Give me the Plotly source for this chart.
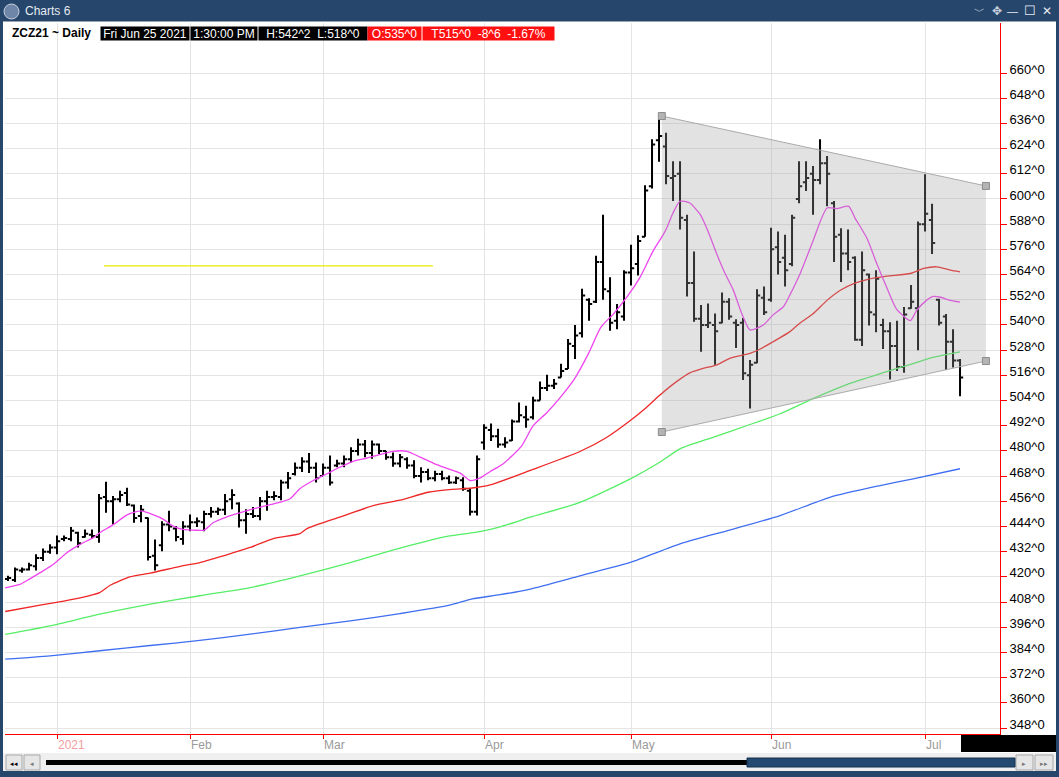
import pandas as pd
import plotly.graph_objects as go

"""
    ZCZ21 DAILY BAR CHART WITH MOVING AVERAGES AND TRIANGLE
"""

W, H = 1059, 777
ML, MR, MT, MB = 5, 59, 23, 43

# trading days shown on the chart
holidays = ["2020-12-25", "2021-01-01", "2021-01-18", "2021-02-15",
            "2021-04-02", "2021-05-31", "2021-07-05"]
days = [d for d in pd.bdate_range("2020-12-22", "2021-07-09")
        if d.strftime("%Y-%m-%d") not in holidays]
month_labels = ["<span style='color:#f2a0a0'>2021</span>", "Feb", "Mar", "Apr", "May", "Jun", "Jul"]

# daily bars
opens = [419, 418.5, 423, 423.5, 425, 429, 432, 434, 438, 438, 441, 439, 440, 439, 458, 456, 457, 460, 454, 449,
         448, 430, 435, 445, 443, 438, 444, 446, 446, 450, 451, 452, 457, 455, 447, 450, 449, 456, 458, 458,
         465, 469, 472, 475, 472, 468, 472, 473, 474, 476, 480, 483, 479, 483, 480, 477, 474, 476, 473, 468,
         470, 467, 469, 467, 465, 466, 461, 451, 484, 490, 487, 483, 485, 494, 496, 496, 504, 510, 511, 515,
         519, 530, 536, 552, 551, 570, 556, 542, 544, 565, 569, 582, 606, 628, 625, 610, 612, 590, 560, 543,
         540, 540, 541, 551, 541, 541, 516, 522, 553, 552, 577, 572, 569, 600, 608, 612, 609, 617, 598, 583,
         574, 572, 533, 564, 545, 540, 537, 530, 520, 548, 548, 588, 590, 552, 544, 532, 523]
highs = [420.5, 424.5, 424.5, 426.75, 430.75, 433.5, 435.5, 439.75, 439.75, 443.75, 441.5, 442.5, 442.5, 459.5,
         465.25, 458.5, 461, 462.5, 454.5, 454.25, 448.25, 437.75, 446.5, 451.5, 444.25, 446.5, 449.75, 448.25,
         451.5, 453.25, 453, 459.5, 461.75, 455.5, 452.25, 453.25, 458, 461, 460.75, 466.25, 470, 474.5, 477,
         479, 474.5, 474, 477.75, 475.75, 477.75, 481.75, 485.75, 485.25, 485, 483.5, 480, 479.25, 478.5, 477,
         475.5, 472.25, 471.5, 470.5, 470.5, 468.25, 467.75, 467.5, 462, 477.75, 492.75, 493, 490.5, 486.5, 495,
         503, 501.5, 505.75, 513, 516.25, 514.25, 521.5, 533.25, 540, 557.25, 552.75, 573, 592.5, 562.75, 550,
         566, 578.25, 582.75, 606.5, 628.5, 638, 631.5, 618, 618, 592.5, 575, 549.5, 550.25, 545.5, 555.5,
         552.75, 542.75, 543.25, 523.25, 557, 558.25, 586.25, 584.5, 583, 592.5, 618, 618, 615.75, 628.5, 620.5,
         599, 586, 585.5, 572.75, 575, 564.5, 566, 543, 541.25, 542, 548.5, 559, 589.25, 611.75, 597.75, 552.5,
         545.25, 538, 523.75]
lows = [418, 417.5, 422, 423, 423, 427.5, 431, 430.75, 437, 437, 434, 438.75, 438.25, 436.25, 450.5, 445, 455.5,
        453.75, 445.75, 446, 427.75, 423, 432.25, 441.75, 437, 435.25, 441.75, 443.75, 441.75, 448.25, 449.5,
        449.5, 452.25, 443.5, 440.5, 448, 447, 451.5, 456.5, 456.5, 462, 468.25, 470, 469.5, 465, 468, 463.5,
        472.25, 472.25, 474.5, 477.75, 477, 476.25, 478.5, 475.75, 472.5, 472.25, 471.5, 467, 465, 466, 465.5,
        466, 464.25, 464.25, 461, 449.25, 449.25, 480.5, 484.75, 481.5, 481.5, 484.75, 493.5, 491, 495, 504,
        508.5, 509.5, 515, 519, 523.75, 534, 542, 550.5, 552, 537.25, 538, 542, 558.75, 563.5, 582, 605, 617.75,
        607, 599, 585.5, 553.5, 541.5, 527.25, 538.5, 521, 540.75, 542.5, 529, 513.75, 500.25, 521.75, 544.75,
        551, 564, 558.25, 568, 598, 603.75, 592.5, 607, 596.5, 570, 560.5, 566, 532.5, 530, 539.75, 536.5,
        528.5, 514, 518, 517.25, 547.75, 528, 584.5, 573.75, 539.75, 518.5, 519.75, 506]
closes = [419.5, 423.5, 423.5, 425.5, 429, 432, 434, 437, 438.5, 442, 436, 440.5, 439.5, 457.5, 456, 457, 459,
          454.5, 448, 452, 429.5, 425.5, 445, 444, 439, 444, 446, 446.5, 450, 451, 452, 456, 459, 447, 450, 449,
          456, 458, 458.5, 465, 467, 472, 475, 472, 467, 472, 465, 474, 476, 480, 483, 479, 483, 480, 477, 474,
          477, 473, 468, 470, 467, 469, 467, 465, 467, 462, 451, 476, 491, 487, 483, 484, 494, 497, 495, 504,
          510, 511, 512, 518, 531, 535, 554, 550, 570, 557, 541, 546, 565, 567, 580, 604, 626, 630, 611, 611,
          591, 560, 543, 540, 541, 537, 551, 544, 540, 517, 521, 554, 546, 576, 570, 566, 591, 606, 610, 609,
          617, 612, 582, 574, 570, 533, 566, 546, 562, 537, 530, 520, 545, 551, 588, 593, 579, 541, 532, 523, 515]

# moving averages, sampled along the chart (bar index, price)
ma_fast_x = [-0.4, 1.7, 3, 4.6, 6.5, 8.4, 10.3, 12.2, 13.1, 15.1, 17, 19, 20.8, 22.2, 23.6, 25, 27, 28, 29.3,
             31.2, 33.1, 35, 37, 38.9, 40.3, 41.7, 43.6, 45.5, 47.4, 49.3, 51.2, 53.1, 55, 57, 58.9, 60.8, 62.7,
             64.6, 66, 67.4, 68.9, 70.7, 73.3, 75, 77, 78.9, 80.9, 82.9, 84.7, 86.5, 88.4, 90.3, 92.2, 93.6,
             94.1, 95, 96, 97.4, 98.9, 100, 101.2, 102.4, 103.6, 104.8, 106, 107.9, 109.3, 110.8, 111.7, 113.1,
             114.6, 115, 117, 118.4, 120.1, 121, 122.7, 124.1, 125.5, 126.9, 128.9, 129.8, 131.2, 132.2, 133.1,
             134.6, 136]
ma_fast_y = [414.8, 416.4, 418.8, 422, 426, 431.5, 435.5, 438.7, 441, 445, 449.5, 451.4, 449.5, 447.4, 444.2,
             442.6, 442.2, 442.2, 445.8, 448.5, 450.5, 452.4, 454, 455.6, 457.2, 462, 465.9, 469, 472.2, 475,
             476.5, 478.2, 479.8, 479.8, 477, 474.1, 471.7, 469.4, 465.9, 467, 470.2, 473.8, 482, 491.9, 498.3,
             505.5, 514.2, 526.2, 538.9, 545.3, 553.2, 562.8, 575.5, 583, 586.2, 593.3, 598.9, 598.1, 592.5,
             584.6, 574.2, 564.7, 556.7, 545.6, 537.6, 540, 544.8, 548.8, 554.3, 564, 576.6, 580, 595.7, 595.4,
             596.5, 590.9, 581.3, 569.3, 558.1, 547.7, 542.1, 546.9, 551.7, 553.6, 553.3, 551.7, 550.9]
ma_mid_x = [-0.4, 4.6, 6.7, 10.3, 13.1, 14.6, 17.4, 20.3, 24.6, 27.4, 32.2, 34.6, 37.9, 41.7, 42.7, 47.4, 52.3,
            56, 60, 63.4, 66, 68.9, 74.6, 81.7, 85.5, 88.9, 91.2, 93.1, 95.5, 97.4, 99.3, 101.2, 103.1, 106,
            107.4, 109.3, 111.7, 113.1, 115, 117, 118.9, 120.8, 122.7, 125.5, 128.9, 130.8, 132.7, 134.6, 136]
ma_mid_y = [403.5, 406.5, 407.7, 410, 412.5, 416, 420, 421.8, 425, 426.8, 431.5, 434, 438.2, 440.6, 443, 448.5,
            454, 456.5, 460.3, 461.7, 462.2, 463.8, 470.7, 479.7, 486.4, 494.5, 500.7, 506.5, 513, 517.2, 519.3,
            520.9, 524.1, 526.5, 528.4, 532, 536.8, 540.8, 545.3, 551.7, 556.5, 559.7, 561.6, 563.2, 564.5,
            566.9, 567.7, 566.1, 565.3]
ma_slow_x = [-0.4, 6, 13.1, 20.3, 27.4, 34.6, 41.7, 48.9, 56, 63.1, 67.4, 70.3, 74.6, 81.7, 88.9, 93.1, 96,
             100.8, 105.6, 110.3, 115, 119.9, 124.6, 129.3, 132.1, 136]
ma_slow_y = [392.6, 396.7, 402.2, 407, 411, 414.9, 420.5, 426.8, 433.7, 439.5, 441.5, 443.8, 448.4, 455.5,
             466.7, 474.6, 481, 486.6, 492.1, 497.7, 504.9, 511.7, 516.8, 521.6, 524.5, 527.2]
ma_long_x = [-0.4, 6, 13.1, 20.3, 27.4, 34.6, 41.7, 48.9, 56, 63.1, 66.3, 70.3, 74.6, 81.7, 88.9, 96, 103.1,
             110.3, 117.4, 124.6, 129.3, 136]
ma_long_y = [380.8, 382.4, 384.8, 387.3, 389.7, 392.7, 395.9, 399, 402.5, 406.5, 409.5, 411.5, 414.2, 420.5,
             426.9, 435.7, 442.3, 449.2, 457.9, 463.5, 466.7, 471.5]

# drawings
yellow_x = [13.7, 60.7]
yellow_y = [568.1, 568.1]
tri_x = [93.4, 139.7]
tri_top = [639.5, 606.2]
tri_bottom = [489.0, 522.8]

price_ticks = list(range(348, 661, 12))
x_range = [-0.43, 141.71]
y_range = [345.15, 683.82]

NAVY = "#26466c"
GRID = "#e4e4e4"


def px(x):
    """ pixel column -> paper x """
    return (x - ML) / (W - ML - MR)


def py(y):
    """ pixel row -> paper y """
    return (H - MB - y) / (H - MT - MB)


def box(x0, y0, x1, y1, fill, line=None):
    return dict(type="rect", xref="paper", yref="paper", layer="above",
                x0=px(x0), x1=px(x1), y0=py(y1), y1=py(y0), fillcolor=fill,
                line=dict(color=line or fill, width=1 if line else 0))


def label(x, y, text, size=12, color="black", bg=None, bold=False, anchor="left", width=None):
    if bold:
        text = "<b>" + text + "</b>"
    return dict(xref="paper", yref="paper", x=px(x), y=py(y), text=text, showarrow=False,
                xanchor=anchor, yanchor="middle", bgcolor=bg, borderpad=0,
                width=width, height=13 if bg else None, align="center",
                font=dict(family="Liberation Sans, Arial", size=size, color=color))


idx = list(range(len(days)))
month_idx = [i for i in idx if i == 0 or days[i].month != days[i - 1].month][1:]

fig = go.Figure()

fig.add_trace(go.Ohlc(x=idx, open=opens, high=highs, low=lows, close=closes, tickwidth=0.45,
                      increasing=dict(line=dict(color="black", width=2)),
                      decreasing=dict(line=dict(color="black", width=2)),
                      hoverinfo="skip"))

for xs, ys, col in [(ma_long_x, ma_long_y, "#3f6ff0"), (ma_slow_x, ma_slow_y, "#55ee66"),
                    (ma_mid_x, ma_mid_y, "#ee2626"), (ma_fast_x, ma_fast_y, "#f044f0")]:
    fig.add_trace(go.Scatter(x=xs, y=ys, mode="lines", hoverinfo="skip",
                             line=dict(color=col, width=1.3, shape="spline", smoothing=0.6)))
fig.add_trace(go.Scatter(x=yellow_x, y=yellow_y, mode="lines", hoverinfo="skip",
                         line=dict(color="#eaea00", width=1.3)))

# triangle drawing, shaded over the bars
shapes = [
    dict(type="path", xref="x", yref="y", layer="above", line=dict(width=0),
         fillcolor="rgba(162,162,162,0.31)",
         path=f"M {tri_x[0]},{tri_top[0]} L {tri_x[1]},{tri_top[1]} "
              f"L {tri_x[1]},{tri_bottom[1]} L {tri_x[0]},{tri_bottom[0]} Z"),
    dict(type="line", xref="x", yref="y", layer="above", line=dict(color="#aaaaaa", width=1),
         x0=tri_x[0], y0=tri_top[0], x1=tri_x[1], y1=tri_top[1]),
    dict(type="line", xref="x", yref="y", layer="above", line=dict(color="#aaaaaa", width=1),
         x0=tri_x[0], y0=tri_bottom[0], x1=tri_x[1], y1=tri_bottom[1]),
]
for xv, yv in [(tri_x[0], tri_top[0]), (tri_x[0], tri_bottom[0]),
               (tri_x[1], tri_top[1]), (tri_x[1], tri_bottom[1])]:
    shapes.append(dict(type="rect", xref="x", yref="y", layer="above",
                       xsizemode="pixel", ysizemode="pixel", xanchor=xv, yanchor=yv,
                       x0=-3.5, x1=3.5, y0=-3.5, y1=3.5,
                       fillcolor="#b4b4b4", line=dict(color="#8c8c8c", width=1)))

# window chrome
shapes += [
    box(0, 0, W, 21, NAVY),
    box(0, 21, W, 22, "#9aa4b0"),
    box(0, 21, 3, H, NAVY),
    box(W - 3, 21, W, H, NAVY),
    box(0, H - 6, W, H, NAVY),
    box(961, 735, W - 3, 752, "black"),
    box(3, 753, W - 3, H - 6, "#efefef"),
    box(6, 755, 22, 770, "#e6e6e6", "#a8a8a8"),
    box(24, 755, 40, 770, "#e6e6e6", "#a8a8a8"),
    box(1016, 755, 1033, 770, "#e6e6e6", "#a8a8a8"),
    box(1035, 755, 1053, 770, "#e6e6e6", "#a8a8a8"),
    box(46, 760, 747, 765, "black"),
    box(747, 758, 1015, 767, "#244a72", "#15304f"),
    dict(type="circle", xref="paper", yref="paper", layer="above",
         x0=px(4), x1=px(19), y0=py(19), y1=py(4), fillcolor="#6f86a8",
         line=dict(color="#c8d2e0", width=1)),
]

annotations = [
    label(24, 11, "Charts 6", size=12, color="#e6ebf2"),
    label(979, 11, "﹀", size=11, color="#c9d2de", anchor="center"),
    label(997, 11, "✥", size=12, color="#c9d2de", anchor="center"),
    label(1013, 11, "—", size=11, color="#e6ebf2", anchor="center"),
    label(1030, 11, "☐", size=13, color="#e6ebf2", anchor="center"),
    label(1047, 11, "✕", size=12, color="#e6ebf2", anchor="center"),
    label(11, 33, "ZCZ21 ~ Daily", size=12, bold=True),
    label(100, 33, "Fri Jun 25 2021", size=12, color="white", bg="black", width=88),
    label(190, 33, "1:30:00 PM", size=12, color="white", bg="black", width=66),
    label(258, 33, "H:542^2\u00a0\u00a0L:518^0", size=12, color="white", bg="black", width=108),
    label(367, 33, "O:535^0", size=12, color="white", bg="#ff1010", width=53),
    label(422, 33, "T515^0\u00a0\u00a0-8^6\u00a0\u00a0-1.67%", size=12, color="white", bg="#ff1010", width=131),
    label(14, 763, "◂◂", size=7, anchor="center"),
    label(32, 763, "◂", size=7, color="#777777", anchor="center"),
    label(1024, 763, "▸", size=7, color="#777777", anchor="center"),
    label(1044, 763, "▸▸", size=7, color="#777777", anchor="center"),
]

fig.update_layout(
    width=W, height=H,
    margin=dict(l=ML, r=MR, t=MT, b=MB),
    paper_bgcolor="white", plot_bgcolor="white",
    showlegend=False, hovermode=False,
    shapes=shapes, annotations=annotations,
    xaxis=dict(range=x_range, rangeslider=dict(visible=False),
               tickvals=month_idx, ticktext=month_labels,
               ticks="outside", ticklen=4, tickcolor="#ff0000",
               ticklabelposition="outside right",
               tickfont=dict(family="Liberation Sans, Arial", size=12, color="#9a9a9a"),
               showgrid=True, gridcolor=GRID, zeroline=False,
               showline=True, linecolor="#ff0000", linewidth=1),
    yaxis=dict(range=y_range, side="right",
               tickvals=price_ticks, ticktext=[f"{v}^0" for v in price_ticks],
               ticks="outside", ticklen=6, tickcolor="#ff0000",
               ticklabelshift=-4,
               tickfont=dict(family="Liberation Sans, Arial", size=13, color="black"),
               showgrid=True, gridcolor=GRID, zeroline=False,
               showline=True, linecolor="#ff0000", linewidth=1),
)

# the page sits flush with the window, like the screenshot
fig.write_html("out.html", config={"displayModeBar": False},
               post_script="document.body.style.margin='0';document.body.style.overflow='hidden';")
